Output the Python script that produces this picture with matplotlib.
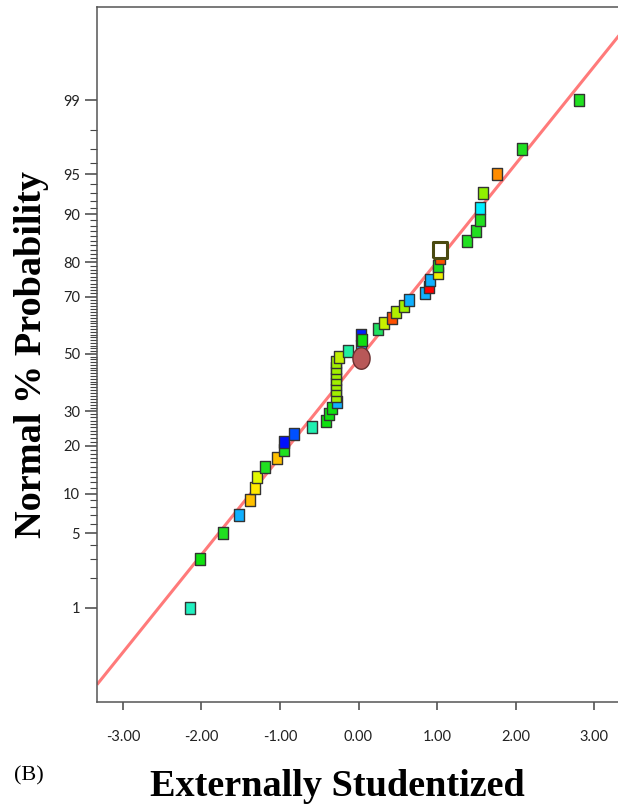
from statistics import NormalDist
import numpy as np
import matplotlib
matplotlib.use("Agg")
import matplotlib.pyplot as plt

# normal plot of residuals: externally studentized residual vs normal % probability
residuals = [-2.15, -2.02, -1.72, -1.52, -1.38, -1.32, -1.29, -1.19, -1.04, -0.95,
             -0.95, -0.82, -0.59, -0.41, -0.37, -0.34, -0.27, -0.29, -0.29, -0.29,
             -0.29, -0.29, -0.29, -0.29, -0.25, -0.13, 0.03, 0.03, 0.04, 0.25,
             0.33, 0.43, 0.48, 0.58, 0.64, 0.85, 0.90, 0.91, 1.01, 1.01,
             1.04, 1.04, 1.38, 1.50, 1.55, 1.55, 1.59, 1.77, 2.08, 2.81]
probs = [1, 3, 5, 7, 9, 11, 13, 15, 17, 19,
         21, 23, 25, 27, 29, 31, 33, 35, 37, 39,
         41, 43, 45, 47, 49, 51, 53, 57, 55, 59,
         61, 63, 65, 67, 69, 71, 73, 75, 77, 79,
         81, 83, 85, 87, 89, 91, 93, 95, 97, 99]
colors = ["#20f0c0", "#10e010", "#20e020", "#10b0ff", "#ffc000", "#ffe800", "#e0f800", "#20e020", "#ffc000", "#20e020",
          "#0010ff", "#0050ff", "#20f0b0", "#10e010", "#10e010", "#10e010", "#10b0ff", "#a0f000", "#a0f000", "#a0f000",
          "#a0f000", "#a0f000", "#a0f000", "#a0f000", "#c0f000", "#20f0a0", "#10b0ff", "#0020ff", "#10e010", "#20e060",
          "#c8f000", "#ff5000", "#b0f000", "#a0f000", "#10b0ff", "#10b0ff", "#ff0000", "#10b0ff", "#f0f000", "#20e020",
          "#ff5000", "#ffffff", "#20e020", "#20e020", "#20e020", "#00f0ff", "#90f000", "#ff8c00", "#20e020", "#20e020"]

# highlighted run (circle)
circle_x = [0.03]
circle_p = [48.4]

# fitted normal line
line_x = [-3.33, 3.33]
line_p = [0.122, 99.83]

major_ticks = [1, 5, 10, 20, 30, 50, 70, 80, 90, 95, 99]
minor_ticks = [v for v in range(2, 99) if v not in major_ticks]
x_ticks = [-3, -2, -1, 0, 1, 2, 3]

_nd = NormalDist()


def prob_to_z(p):
    p = np.clip(np.asarray(p, dtype=float), 1e-6, 100 - 1e-6)
    return np.vectorize(lambda v: _nd.inv_cdf(v / 100.0), otypes=[float])(p)


def z_to_prob(z):
    return np.vectorize(lambda v: _nd.cdf(v) * 100.0, otypes=[float])(np.asarray(z, dtype=float))


tick_font = ["Lato", "DejaVu Sans"]
label_font = ["Liberation Serif", "DejaVu Serif"]

fig = plt.figure(figsize=(6.18, 8.06), dpi=100)
ax = fig.add_axes([97 / 618, 1 - 702 / 806, 523 / 618, 695 / 806])
ax.set_yscale("function", functions=(prob_to_z, z_to_prob))

ax.plot(line_x, line_p, color="#ff7a7a", lw=2.2, zorder=1, solid_capstyle="butt")

rect = [(-0.42, -0.5), (0.42, -0.5), (0.42, 0.5), (-0.42, 0.5), (-0.42, -0.5)]
for x, p, c in zip(residuals, probs, colors):
    if c == "#ffffff":
        ax.plot(x, p, marker=rect, ms=12, mfc="white", mec="#4a4a10", mew=2.2,
                ls="none", zorder=3)
    else:
        ax.plot(x, p, marker=rect, ms=9, mfc=c, mec="#333333", mew=1.0,
                ls="none", zorder=3)

ell = [(0.4 * np.cos(t), 0.5 * np.sin(t)) for t in np.linspace(0, 2 * np.pi, 40)]
ax.plot(circle_x, circle_p, marker=ell, ms=15.5, mfc="#b85858", mec="#6a3030",
        mew=1.0, ls="none", zorder=4)

ax.set_xlim(-3.33, 3.33)
ax.set_ylim(0.0711, 99.926)

ax.set_xticks(x_ticks, [f"{v:.2f}" for v in x_ticks])
ax.set_yticks(major_ticks, [str(v) for v in major_ticks])
ax.set_yticks(minor_ticks, minor=True)
ax.yaxis.set_minor_formatter(matplotlib.ticker.NullFormatter())

ax.tick_params(axis="x", direction="out", length=6, width=1.1, color="#444444",
               pad=14, labelsize=10.5, labelcolor="#222222")
ax.tick_params(axis="y", which="major", direction="out", length=8.6, width=1.1,
               color="#444444", pad=3.5, labelsize=10.5, labelcolor="#222222")
ax.tick_params(axis="y", which="minor", direction="out", length=5, width=0.8,
               color="#444444")
for lab in ax.get_xticklabels() + ax.get_yticklabels():
    lab.set_family(tick_font)

for s in ax.spines.values():
    s.set_color("#555555")
    s.set_linewidth(1.1)

fig.text(32 / 618, 1 - 355 / 806, "Normal % Probability", rotation=90,
         ha="center", va="center", fontsize=27.5, fontweight="bold", family=label_font)
fig.text(337 / 618, 1 - 787 / 806, "Externally Studentized", ha="center",
         va="center", fontsize=27.5, fontweight="bold", family=label_font)
fig.text(14 / 618, 1 - 776 / 806, "(B)", ha="left", va="center", fontsize=16,
         family=label_font)

fig.savefig("out.png", dpi=100)
